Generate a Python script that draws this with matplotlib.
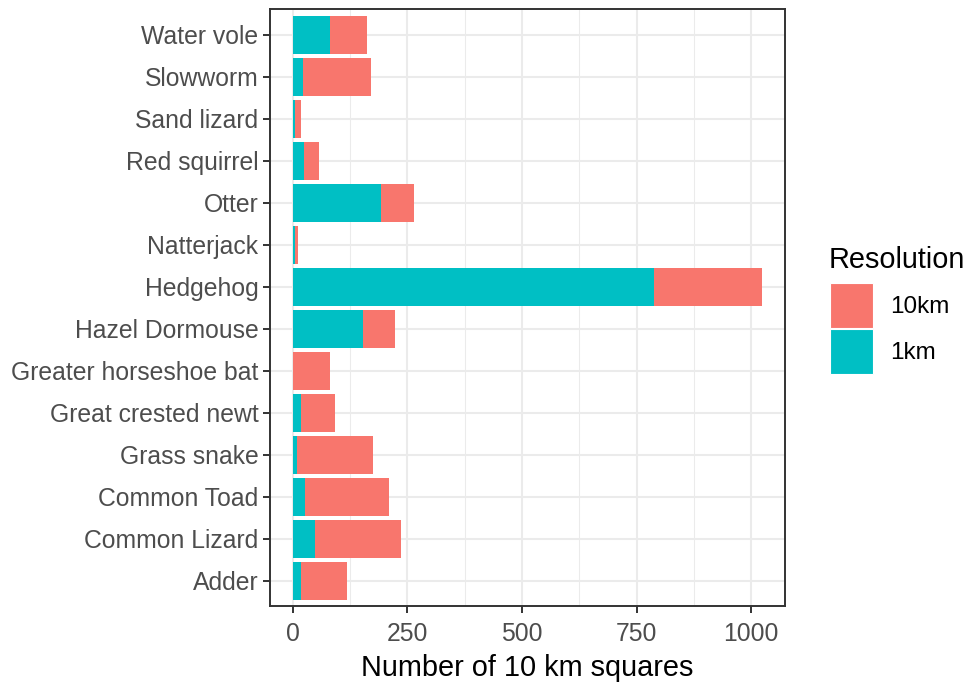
import matplotlib
matplotlib.use('Agg')
import matplotlib.pyplot as plt
import numpy as np
from matplotlib.patches import Patch

plt.rcParams['font.family'] = ['Liberation Sans', 'DejaVu Sans']

# species, bottom to top
species = ['Adder', 'Common Lizard', 'Common Toad', 'Grass snake',
           'Great crested newt', 'Greater horseshoe bat', 'Hazel Dormouse',
           'Hedgehog', 'Natterjack', 'Otter', 'Red squirrel', 'Sand lizard',
           'Slowworm', 'Water vole']
km1 = [18, 48, 26, 9, 18, 0, 154, 789, 4, 193, 25, 4, 21, 82]
km10 = [100, 188, 184, 166, 73, 82, 69, 234, 8, 71, 31, 13, 149, 79]
xticks = [0, 250, 500, 750, 1000]
xminor = [125, 375, 625, 875]

col10 = '#F8766D'
col1 = '#00BFC4'
dark = '#333333'
grey30 = '#4D4D4D'

W, H = 971, 686
fig = plt.figure(figsize=(W/100, H/100), dpi=100)
left, right, top, bottom = 269.5, 785, 9.5, 606
ax = fig.add_axes([left/W, 1-bottom/H, (right-left)/W, (bottom-top)/H])

y = np.arange(len(species))
km1 = np.array(km1)
km10 = np.array(km10)
ax.barh(y, km1, height=0.9, color=col1, zorder=3)
ax.barh(y, km10, left=km1, height=0.9, color=col10, zorder=3)

total_max = (km1+km10).max()
ax.set_xlim(-0.05*total_max, 1.05*total_max)
ax.set_ylim(-0.6, len(species)-0.4)

ax.set_xticks(xticks)
ax.set_xticks(xminor, minor=True)
ax.set_yticks(y)
ax.set_yticklabels(species)
ax.grid(True, which='major', color='#EBEBEB', linewidth=1.45, zorder=0)
ax.grid(True, which='minor', axis='x', color='#EBEBEB', linewidth=0.75, zorder=0)
ax.set_axisbelow(True)

ax.tick_params(axis='both', which='major', length=5, width=1.4, color=dark,
               labelsize=17.8, labelcolor=grey30)
ax.tick_params(axis='y', pad=3)
ax.tick_params(axis='x', pad=6.5)
ax.tick_params(axis='x', which='minor', length=0)
for s in ax.spines.values():
    s.set_color(dark)
    s.set_linewidth(1.4)

ax.set_xlabel('Number of 10 km squares', fontsize=20.8, color='black', labelpad=6)

# legend: title drawn separately so the gap under it can be set
fig.text(829/W, 1-268/H, 'Resolution', fontsize=20.8, ha='left', va='baseline')
handles = [Patch(facecolor=col10, edgecolor='white', linewidth=0.8, label='10km'),
           Patch(facecolor=col1, edgecolor='white', linewidth=0.8, label='1km')]
leg = fig.legend(handles=handles, loc='upper left',
                 bbox_to_anchor=(830/W, 1-283/H), frameon=False,
                 fontsize=17.5, handlelength=1.78, handleheight=2.47,
                 labelspacing=0.06, handletextpad=0.7,
                 borderaxespad=0, borderpad=0)

plt.savefig('out.png', dpi=100)
